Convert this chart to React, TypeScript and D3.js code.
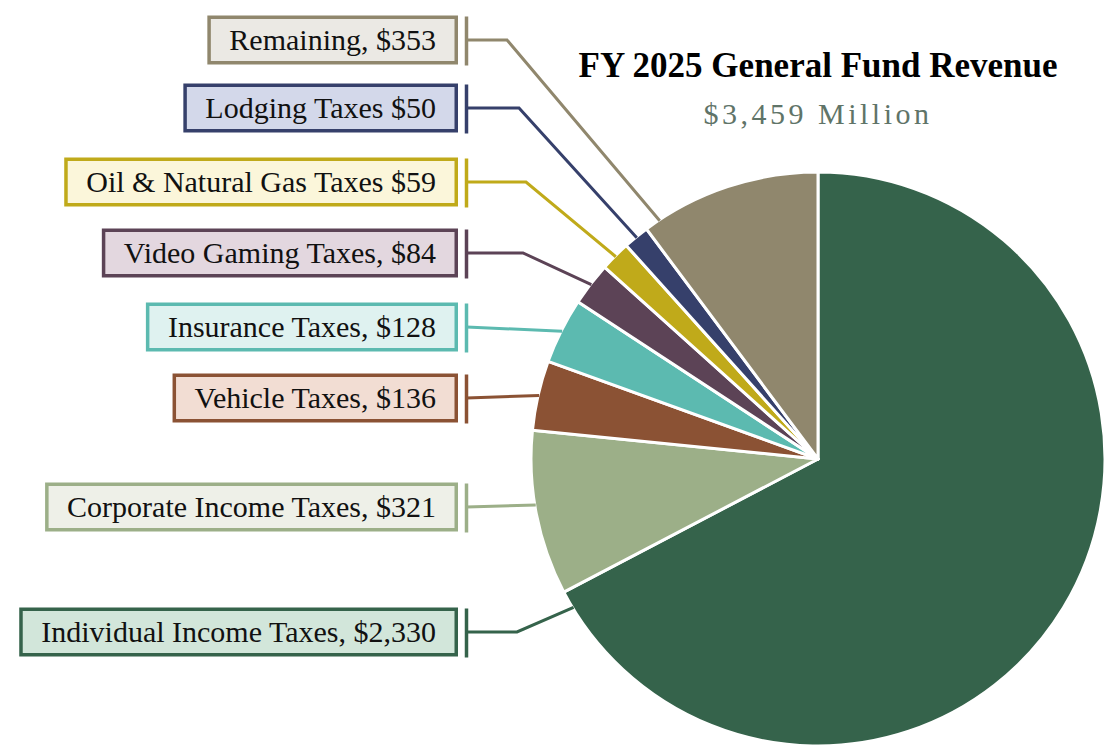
import React, { useEffect, useRef } from 'react';
import * as d3 from 'd3';

// FY 2025 general fund revenue, $ millions, clockwise from 12 o'clock
const categories = [
  'Individual Income Taxes',
  'Corporate Income Taxes',
  'Vehicle Taxes',
  'Insurance Taxes',
  'Video Gaming Taxes',
  'Oil & Natural Gas Taxes',
  'Lodging Taxes',
  'Remaining',
];
const values = [2330, 321, 136, 128, 84, 59, 50, 353];
const labelTexts = [
  'Individual Income Taxes, $2,330',
  'Corporate Income Taxes, $321',
  'Vehicle Taxes, $136',
  'Insurance Taxes, $128',
  'Video Gaming Taxes, $84',
  'Oil & Natural Gas Taxes $59',
  'Lodging Taxes $50',
  'Remaining, $353',
];
const title = 'FY 2025 General Fund Revenue';
const subtitle = '$3,459 Million';

const sliceColors = ['#35634b', '#9caf88', '#8b5234', '#5cbab0', '#5c4356', '#c0aa1a', '#36406b', '#90876d'];
const boxFills = ['#d2e6da', '#eef0e8', '#f2ddd3', '#dff2f0', '#e3d7df', '#fbf6da', '#d3d8ea', '#ebe9e4'];

// label layout: box centre y, elbow x of the leader, where along the slice the leader lands
const labelY = [632, 507, 398, 327, 253, 182, 108, 40];
const elbowX: (number | null)[] = [517, null, null, null, 523, 526, 519, 507];
const anchorFrac = [0.985, 0.55, 0.5, 0.5, 0.5, 0.5, 0.5, 0.085];

const W = 1120;
const H = 750;
const FONT = '"Liberation Serif", "Times New Roman", serif';

export default function App() {
  const svgRef = useRef<SVGSVGElement>(null);

  useEffect(() => {
    if (!svgRef.current) return;
    const svg = d3.select(svgRef.current);
    svg.selectAll('*').remove();

    const cx = 818;
    const cy = 459;
    const r = 287;

    const pie = d3.pie<number>().sort(null).value(d => d);
    const arcs = pie(values);
    const arc = d3.arc<d3.PieArcDatum<number>>().innerRadius(0).outerRadius(r);

    const g = svg.append('g').attr('transform', `translate(${cx},${cy})`);
    g.selectAll('path.slice')
      .data(arcs)
      .join('path')
      .attr('class', 'slice')
      .attr('d', arc)
      .attr('fill', (d, i) => sliceColors[i])
      .attr('stroke', '#fff')
      .attr('stroke-width', 3)
      .attr('stroke-linejoin', 'round');

    // Title
    svg.append('text')
      .attr('x', cx)
      .attr('y', 77)
      .attr('text-anchor', 'middle')
      .attr('font-family', FONT)
      .attr('font-weight', 'bold')
      .attr('font-size', 35)
      .attr('fill', '#000')
      .text(title);

    svg.append('text')
      .attr('x', cx)
      .attr('y', 124)
      .attr('text-anchor', 'middle')
      .attr('font-family', FONT)
      .attr('font-size', 30)
      .attr('letter-spacing', 3.5)
      .attr('fill', '#5f7468')
      .text(subtitle);

    // Labels
    const boxRight = 458;
    const pad = 22;
    const boxH = 49;
    const bw = 3.5;
    const bracketX = 466.5;

    const labels = svg.append('g');
    arcs.forEach((a, i) => {
      const y0 = labelY[i];
      const lg = labels.append('g');
      const rect = lg.append('rect');
      const txt = lg.append('text')
        .attr('x', boxRight - pad)
        .attr('y', y0 + 10)
        .attr('text-anchor', 'end')
        .attr('font-family', FONT)
        .attr('font-size', 30)
        .attr('fill', '#111')
        .text(labelTexts[i]);
      const tw = (txt.node() as SVGTextElement).getComputedTextLength();
      const left = boxRight - pad - tw - pad;
      rect
        .attr('x', left + bw / 2)
        .attr('y', y0 - boxH / 2 + bw / 2)
        .attr('width', boxRight - left - bw)
        .attr('height', boxH - bw)
        .attr('fill', boxFills[i])
        .attr('stroke', sliceColors[i])
        .attr('stroke-width', bw);

      // bracket
      lg.append('line')
        .attr('x1', bracketX).attr('x2', bracketX)
        .attr('y1', y0 - boxH / 2 + 1).attr('y2', y0 + boxH / 2 + 1)
        .attr('stroke', sliceColors[i])
        .attr('stroke-width', bw);

      // leader
      const ang = a.startAngle + anchorFrac[i] * (a.endAngle - a.startAngle);
      const ax = cx + (r - 1) * Math.sin(ang);
      const ay = cy - (r - 1) * Math.cos(ang);
      const pts: [number, number][] = [[bracketX, y0]];
      const ex = elbowX[i];
      if (ex !== null) pts.push([ex, y0]);
      pts.push([ax, ay]);
      lg.append('path')
        .attr('d', d3.line()(pts))
        .attr('fill', 'none')
        .attr('stroke', sliceColors[i])
        .attr('stroke-width', 3)
        .attr('stroke-linejoin', 'miter');
    });
  }, []);

  return (
    <div style={{ position: 'absolute', left: 0, top: 0, width: W, height: H, background: '#fff' }}>
      <svg ref={svgRef} width={W} height={H} aria-label={categories.join(', ')} />
    </div>
  );
}
